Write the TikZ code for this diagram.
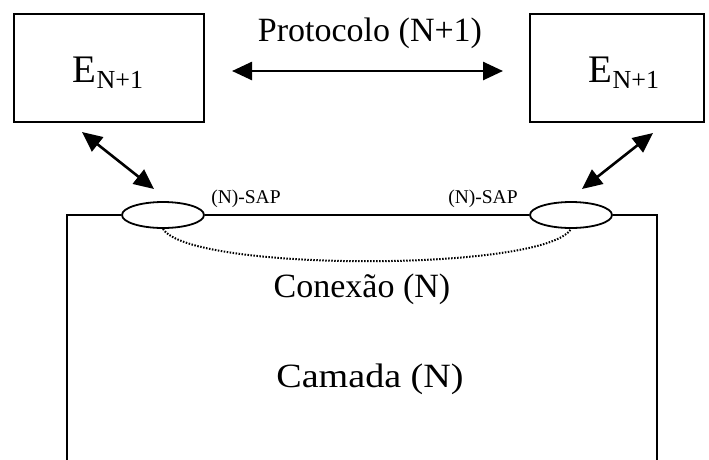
\documentclass[tikz,border=0pt]{standalone}
\usepackage{fontspec}
\setmainfont{Liberation Serif}
\usetikzlibrary{arrows.meta,shapes.geometric}
\begin{document}
\begin{tikzpicture}[x=1pt,y=-1pt,
  line/.style={line width=1.6pt},
  ent/.style={draw,line width=1.6pt,rectangle,inner sep=0pt},
  sap/.style={draw,line width=1.8pt,ellipse,inner sep=0pt,minimum width=82pt,minimum height=26pt},
  bigarrow/.style={line width=2.6pt,{Triangle[length=20pt,width=18pt]}-{Triangle[length=20pt,width=18pt]}},
  lbl/.style={anchor=base,inner sep=0pt},
  bigtxt/.style={lbl,font=\fontsize{34}{40}\selectfont},
  saptxt/.style={lbl,font=\fontsize{19.5}{22}\selectfont},
  etxt/.style={lbl,font=\fontsize{39}{44}\selectfont}]
\useasboundingbox (0,0) rectangle (709,459);
% entity boxes
\node[ent,minimum width=190pt,minimum height=108pt] (eL) at (109,68) {};
\node[ent,minimum width=174pt,minimum height=108pt] (eR) at (617,68) {};
\node[etxt] (tL) at (108,82) {E\raisebox{-6pt}{\fontsize{26}{30}\selectfont N+1}};
\node[etxt] (tR) at (624,82) {E\raisebox{-6pt}{\fontsize{26}{30}\selectfont N+1}};
% protocol
\node[bigtxt] (prot) at (370,41) {Protocolo (N+1)};
\coordinate (hA) at (232,71);
\coordinate (hB) at (503,71);
\draw[bigarrow] (hA) -- (hB);
% SAPs
\node[sap] (s1) at (163,215) {};
\node[sap] (s2) at (571,215) {};
\node[saptxt] (l1) at (246,203) {(N)-SAP};
\node[saptxt] (l2) at (483,203) {(N)-SAP};
% layer box
\coordinate (bl) at (67,462);
\coordinate (tl) at (67,215);
\coordinate (tr) at (657,215);
\coordinate (br) at (657,462);
\draw[line] (bl) -- (tl) -- (s1.west);
\draw[line] (s1.east) -- (s2.west);
\draw[line] (s2.east) -- (tr) -- (br);
% diagonal arrows
\coordinate (d1a) at (82,132);
\coordinate (d1b) at (154,189);
\coordinate (d2a) at (653,133);
\coordinate (d2b) at (582,189);
\draw[bigarrow] (d1a) -- (d1b);
\draw[bigarrow] (d2a) -- (d2b);
% connection
\draw[line width=2pt,dash pattern=on 1.5pt off 1.5pt] (s1.south) .. controls (190,272) and (545,272) .. (s2.south);
\node[bigtxt] (con) at (362,297) {Conexão (N)};
\node[bigtxt] (cam) at (370,387) {\scalebox{1.12}[1]{Camada (N)}};
\end{tikzpicture}
\end{document}
